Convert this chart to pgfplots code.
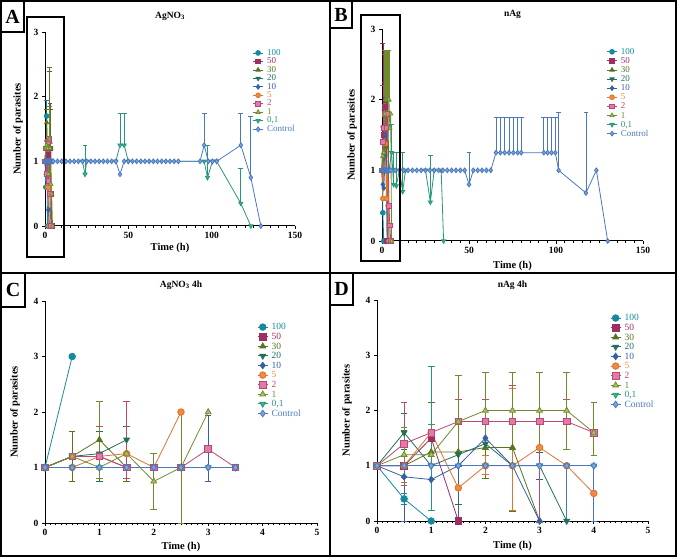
\documentclass[border=0pt]{standalone}
\usepackage{fontspec}
\setmainfont{Liberation Serif}
\usepackage{pgfplots}
\pgfplotsset{compat=1.18}
\definecolor{c100}{RGB}{20,138,158}
\definecolor{c50}{RGB}{158,47,98}
\definecolor{c30}{RGB}{85,117,30}
\definecolor{c20}{RGB}{34,112,90}
\definecolor{c10}{RGB}{53,96,168}
\definecolor{c5}{RGB}{240,138,60}
\definecolor{c5d}{RGB}{222,115,50}
\definecolor{c2}{RGB}{224,122,168}
\definecolor{c2d}{RGB}{190,70,115}
\definecolor{c1}{RGB}{175,192,96}
\definecolor{c1d}{RGB}{110,140,45}
\definecolor{c01}{RGB}{64,176,144}
\definecolor{c01d}{RGB}{40,150,120}
\definecolor{cc}{RGB}{127,164,221}
\definecolor{ccd}{RGB}{74,120,192}
\newcommand{\lgd}[3]{\textcolor{#1}{\rule[-2.3pt]{0pt}{#3}#2}}
\pgfplotsset{
 s100/.style={solid, color=c100, mark=*, mark options={solid, fill=c100, draw=c100}},
 s50/.style={solid, color=c50, mark=square*, mark options={solid, fill=c50, draw=c50}},
 s30/.style={solid, color=c30, mark=triangle*, mark options={solid, fill=c30, draw=c30}},
 s20/.style={solid, color=c20, mark=triangle*, mark options={solid, fill=c20, draw=c20, rotate=180}},
 s10/.style={solid, color=c10, mark=diamond*, mark options={solid, fill=c10, draw=c10}},
 s5/.style={solid, color=c5d, mark=*, mark options={solid, fill=c5, draw=c5d}},
 s2/.style={solid, color=c2d, mark=square*, mark options={solid, fill=c2, draw=c2d}},
 s1/.style={solid, color=c1d, mark=triangle*, mark options={solid, fill=c1, draw=c1d}},
 s01/.style={solid, color=c01d, mark=triangle*, mark options={solid, fill=c01, draw=c01d, rotate=180}},
 sc/.style={solid, color=ccd, mark=diamond*, mark options={solid, fill=cc, draw=ccd}},
 panel/.style={scale only axis, anchor=south west, clip=false,
   axis lines*=left, axis line style={line width=1pt, black},
   tick align=outside, tick style={black, line width=0.8pt},
   major tick length=3pt, minor tick length=2pt,
   minor x tick num=9,
   /pgf/number format/assume math mode=true,
   ticklabel style={font=\bfseries\fontsize{9.5}{10}\selectfont},
   label style={font=\bfseries\fontsize{10.5}{12}\selectfont},
   title style={font=\bfseries\fontsize{9.5}{11}\selectfont, anchor=center},
   xlabel={Time (h)}, ylabel={Number of parasites},
   legend cell align=left,
   legend image code/.code={\draw[mark repeat=2,mark phase=2] plot coordinates {(0pt,0pt) (5pt,0pt) (10pt,0pt)};},
   legend style={anchor=north west, draw=none, fill=none, inner sep=0pt, row sep=0pt,
     nodes={inner sep=0.5pt}, /tikz/every odd column/.append style={column sep=3pt}},
   every axis plot/.append style={line width=0.8pt, error bars/y explicit},
   error bars/error bar style={line width=0.7pt, solid},
 },
}
\begin{document}
\begin{tikzpicture}
\path[use as bounding box] (0pt,0pt) rectangle (677pt,557pt);
% ---------------- Panel A
\begin{axis}[panel, at={(45pt,331pt)}, width=250pt, height=194pt,
  xmin=0, xmax=150, ymin=0, ymax=3, xtick={0,50,100,150}, ytick={0,1,2,3},
  title={AgNO\textsubscript{3}}, title style={at={(0.5,1)}, yshift=10pt},
  xlabel style={at={(0.5,0)}, anchor=center, yshift=-22pt},
  ylabel style={at={(-0.108,0.5)}, anchor=center},
  every axis plot/.append style={mark size=2.4pt, error bars/y dir=plus},
  legend style={at={(0.83,0.915)}, font=\fontsize{9}{9}\selectfont}]
\addplot[s100] coordinates {(0,1)(0.5,0.6)(1,1.7) += (0,0.25)(1.5,0)};
\addlegendentry{\lgd{c100}{100}{8pt}}
\addplot[s50] coordinates {(0,1)(0.5,1.2)(1,0.8)(1.5,1.3)(2,1.1)(2.5,1.35) += (0,1.05)(3,1.2) += (0,0.7)(3.5,0.5)(4,0)};
\addlegendentry{\lgd{c50}{50}{8pt}}
\addplot[s30] coordinates {(0,1)(0.5,1.2)(1,1.6) += (0,0.2)(1.5,1.2)(2,1.3)(2.5,1.2) += (0,1.25)(3,1.3)(3.5,1.2) += (0,0.6)(4,0)};
\addlegendentry{\lgd{c30}{30}{8pt}}
\addplot[s20] coordinates {(0,1)(0.5,1.2)(1,1.3)(1.5,1.2)(2,1)(2.5,0)};
\addlegendentry{\lgd{c20}{20}{8pt}}
\addplot[s10] coordinates {(0,1)(0.5,0.8)(1,1)(1.5,1)(2,0.25)(2.5,0)};
\addlegendentry{\lgd{c10}{10}{8pt}}
\addplot[s5] coordinates {(0,1)(0.5,1)(1,1.2)(1.5,0.6)(2,0.6)(2.5,0)};
\addlegendentry{\lgd{c5}{5}{8pt}}
\addplot[s2] coordinates {(0,1)(0.5,1.2)(1,0.8)(1.5,1.3)(2,0.7)(2.5,1.35)(3,0.5)(3.5,0)};
\addlegendentry{\lgd{c2d}{2}{8pt}}
\addplot[s1] coordinates {(0,1)(0.5,1.2)(1,1.25)(1.5,1.2)(2,0.8)(2.5,1.35) += (0,0.5)(3,1.2)(3.5,0.65)(4,0.5)(4.5,0)};
\addlegendentry{\lgd{c1d}{1}{8pt}}
\addplot[s01] coordinates {(0,1)(22.5,1)(24,0.8) += (0,0.45)(25,1)(42.5,1)(45,1.25) += (0,0.5)(47.5,1.25) += (0,0.5)(50,1)(95.5,1)(97.5,0.75) += (0,0.5)(100.5,1)(103,1)(117.5,0.35) += (0,0.55)(123.5,0)};
\addlegendentry{\lgd{c01d}{0,1}{8pt}}
\addplot[sc] coordinates {(0,1)(0.5,1)(1,1)(1.5,1)(2,1)(2.5,1)(3,1)(3.5,1)(4,1)(4.5,1)(5,1)(7.5,1)(10,1)(12.5,1)(15,1)(17.5,1)(20,1)(22.5,1)(25,1)(27.5,1)(30,1)(32.5,1)(35,1)(37.5,1)(40,1)(42.5,1)(45,0.8)(47.5,1)(50,1)(52.5,1)(55,1)(57.5,1)(60,1)(62.5,1)(65,1)(67.5,1)(70,1)(72.5,1)(75,1)(77.5,1)(80,1)(93,1)(95.5,1.25) += (0,0.5)(98,1)(100.5,1)(103,1)(117.5,1.25) += (0,0.5)(123.5,0.75) += (0,0.95)(129.5,0)};
\addlegendentry{\lgd{ccd}{Control}{8pt}}
\end{axis}
% ---------------- Panel B
\begin{axis}[panel, at={(382pt,316pt)}, width=261pt, height=212pt,
  xmin=0, xmax=150, ymin=0, ymax=3, xtick={0,50,100,150}, ytick={0,1,2,3},
  title={nAg}, title style={at={(0.5,1)}, yshift=9pt},
  xlabel style={at={(0.5,0)}, anchor=center, yshift=-25pt},
  ylabel style={at={(-0.115,0.5)}, anchor=center},
  every axis plot/.append style={mark size=2.4pt, error bars/y dir=plus},
  legend style={at={(0.86,0.915)}, font=\fontsize{9}{9}\selectfont}]
\addplot[s100] coordinates {(0,1)(0.5,0.4)(1,0)};
\addlegendentry{\lgd{c100}{100}{8.9pt}}
\addplot[s50] coordinates {(0,1)(0.5,1.4) += (0,1.4)(1,1.5)(1.5,1.9) += (0,0.35)(2,2)(2.5,1.6)(3,0)};
\addlegendentry{\lgd{c50}{50}{8.9pt}}
\addplot[s30] coordinates {(0,1)(0.5,1)(1,1.25)(1.5,1.25) += (0,1.4)(2,1.33) += (0,1.37)(2.5,1.33) += (0,1.37)(3,1.6) += (0,1.1)(3.5,2) += (0,0.7)(4,0)};
\addlegendentry{\lgd{c30}{30}{8.9pt}}
\addplot[s20] coordinates {(0,1)(0.5,1.6)(1,1)(1.5,1.2)(2,1.4)(2.5,1)(3,1)(3.5,0)};
\addlegendentry{\lgd{c20}{20}{8.9pt}}
\addplot[s10] coordinates {(0,1)(0.5,0.8)(1,0.75)(1.5,1)(2,1.5)(2.5,1)(3,0)};
\addlegendentry{\lgd{c10}{10}{8.9pt}}
\addplot[s5] coordinates {(0,1)(0.5,0.6)(1,1)(1.5,1.6)(2,1.38)(2.5,0.6)(3,1)(3.5,0.5)(4,0)};
\addlegendentry{\lgd{c5}{5}{8.9pt}}
\addplot[s2] coordinates {(0,1)(0.5,1.4) += (0,0.8)(1,1.6)(1.5,1.8)(2,1.8)(2.5,1.6)(3,1.8)(3.5,1)(4,0.5)(4.5,0.22)(5,0)};
\addlegendentry{\lgd{c2d}{2}{8.9pt}}
\addplot[s1] coordinates {(0,1)(0.5,1.2)(1,1.25)(1.5,1.8) += (0,0.9)(2,2) += (0,0.7)(2.5,2) += (0,0.7)(3,2) += (0,0.7)(3.5,2) += (0,0.7)(4,2) += (0,0.7)(4.5,1.6)(5,1.8)(5.5,0)};
\addlegendentry{\lgd{c1d}{1}{8.9pt}}
\addplot[s01] coordinates {(0,1)(2,1)(4,1)(5.5,1.25) += (0,0.4)(6.7,0.8) += (0,0.45)(8.2,0.78) += (0,0.47)(10,1)(11.9,0.7) += (0,0.55)(13.5,1)(25,1)(27.8,0.55) += (0,0.67)(30,1)(34,1)(35.4,0)};
\addlegendentry{\lgd{c01d}{0,1}{8.9pt}}
\addplot[sc] coordinates {(0,1)(0.5,1)(1,1)(1.5,1)(2,1)(2.5,1)(3,1)(3.5,1)(4,1)(4.5,1)(5,1)(7.5,1)(10,1)(12.5,1)(15,1)(17.5,1)(20,1)(22.5,1)(25,1)(27.5,1)(30,1)(32.5,1)(35,1)(37.5,1)(40,1)(42.5,1)(45,1)(47.5,1)(50,0.8) += (0,0.45)(52.5,1)(55,1)(57.5,1)(60,1)(62.5,1)(65.5,1.25) += (0,0.5)(68,1.25) += (0,0.5)(70.5,1.25) += (0,0.5)(73,1.25) += (0,0.5)(75.5,1.25) += (0,0.5)(78,1.25) += (0,0.5)(80,1.25) += (0,0.5)(93,1.25) += (0,0.5)(95.2,1.25) += (0,0.5)(97.4,1.25) += (0,0.5)(99.6,1.25) += (0,0.5)(101.5,1) += (0,0.82)(117.2,0.68) += (0,1.14)(123.2,1)(129.7,0)};
\addlegendentry{\lgd{ccd}{Control}{8.9pt}}
\end{axis}
% ---------------- Panel C
\begin{axis}[panel, at={(45pt,34pt)}, width=272pt, height=222pt,
  xmin=0, xmax=5, ymin=0, ymax=4, xtick={0,1,2,3,4,5}, ytick={0,1,2,3,4},
  title={AgNO\textsubscript{3} 4h}, title style={at={(0.5,1)}, yshift=10pt},
  xlabel style={at={(0.5,0)}, anchor=center, yshift=-24pt},
  ylabel style={at={(-0.11,0.5)}, anchor=center},
  every axis plot/.append style={mark size=3.3pt, error bars/y dir=both},
  legend style={at={(0.78,0.905)}, font=\fontsize{9.5}{10}\selectfont}]
\addplot[s100] coordinates {(0,1)(0.5,3)};
\addlegendentry{\lgd{c100}{100}{9.4pt}}
\addplot[s50] coordinates {(0,1)(0.5,1.2)(1,1.2)(1.5,1)(2,1)};
\addlegendentry{\lgd{c50}{50}{9.4pt}}
\addplot[s30] coordinates {(0,1)(0.5,1.2) += (0,0.45) -= (0,0.45)(1,1.5) += (0,0.15) -= (0,0.75)(1.5,1) += (0,0.75) -= (0,0.25)};
\addlegendentry{\lgd{c30}{30}{9.4pt}}
\addplot[s20] coordinates {(0,1)(0.5,1.2)(1,1.25) += (0,0.4) -= (0,0.5)(1.5,1.5)};
\addlegendentry{\lgd{c20}{20}{9.4pt}}
\addplot[s10] coordinates {(0,1)(0.5,1)(1,1)(1.5,1)(2,1)(2.5,1)(3,1) += (0,0.95) -= (0,0.25)};
\addlegendentry{\lgd{c10}{10}{9.4pt}}
\addplot[s5] coordinates {(0,1)(0.5,1)(1,1.2)(1.5,1.25)(2,1)(2.5,2)};
\addlegendentry{\lgd{c5}{5}{9.4pt}}
\addplot[s2] coordinates {(0,1)(0.5,1.2)(1,1.2) += (0,0.55) -= (0,0.4)(1.5,1) += (0,1.2) -= (0,0.2)(2,1)(2.5,1)(3,1.33)(3.5,1)};
\addlegendentry{\lgd{c2d}{2}{9.4pt}}
\addplot[s1] coordinates {(0,1)(0.5,1.2)(1,1) += (0,1.2) -= (0,0.2)(1.5,1.25)(2,0.75) += (0,0.5) -= (0,0.5)(2.5,1) += (0,1) -= (0,1)(3,2)};
\addlegendentry{\lgd{c1d}{1}{9.4pt}}
\addplot[s01] coordinates {(0,1)(0.5,1)(1,1)(1.5,1)(2,1)(2.5,1)(3,1)(3.5,1)};
\addlegendentry{\lgd{c01d}{0,1}{9.4pt}}
\addplot[sc] coordinates {(0,1)(0.5,1)(1,1)(1.5,1)(2,1)(2.5,1)(3,1)(3.5,1)};
\addlegendentry{\lgd{ccd}{Control}{9.4pt}}
\end{axis}
% ---------------- Panel D
\begin{axis}[panel, at={(377pt,36pt)}, width=271pt, height=221pt,
  xmin=0, xmax=5, ymin=0, ymax=4, xtick={0,1,2,3,4,5}, ytick={0,1,2,3,4},
  title={nAg 4h}, title style={at={(0.5,1)}, yshift=9pt},
  xlabel style={at={(0.5,0)}, anchor=center, yshift=-25pt},
  ylabel style={at={(-0.111,0.5)}, anchor=center},
  every axis plot/.append style={mark size=3.3pt, error bars/y dir=both},
  legend style={at={(0.86,0.941)}, font=\fontsize{9.5}{10}\selectfont}]
\addplot[s100] coordinates {(0,1)(0.5,0.4) += (0,0.1) -= (0,0.1)(1,0)};
\addlegendentry{\lgd{c100}{100}{9.4pt}}
\addplot[s50] coordinates {(0,1)(0.5,1)(1,1.5)(1.5,0)};
\addlegendentry{\lgd{c50}{50}{9.4pt}}
\addplot[s30] coordinates {(0,1)(0.5,1) += (0,0.65) -= (0,0.2)(1,1.25) += (0,0.9) -= (0,0.5)(1.5,1.25) += (0,1.38) -= (0,1.25)(2,1.33) += (0,1.37) -= (0,0.55)(2.5,1.33) += (0,1.37) -= (0,1.15)(3,0) += (0,2.7) -= (0,0)};
\addlegendentry{\lgd{c30}{30}{9.4pt}}
\addplot[s20] coordinates {(0,1)(0.5,1.6) += (0,0.35) -= (0,0.3)(1,1)(1.5,1.2) += (0,1) -= (0,0.9)(2,1.4)(2.5,1)(3,1) += (0,0.25) -= (0,0.25)(3.5,0)};
\addlegendentry{\lgd{c20}{20}{9.4pt}}
\addplot[s10] coordinates {(0,1)(0.5,0.8) += (0,0) -= (0,0.8)(1,0.75)(1.5,1) += (0,0) -= (0,1)(2,1.5)(2.5,1)(3,0) += (0,1.3) -= (0,0)};
\addlegendentry{\lgd{c10}{10}{9.4pt}}
\addplot[s5] coordinates {(0,1)(0.5,1)(1,1.6) += (0,0) -= (0,1.4)(1.5,0.6)(2,1) += (0,0.2) -= (0,0.15)(2.5,1) += (0,1.4) -= (0,0.8)(3,1.33)(3.5,1)(4,0.5)};
\addlegendentry{\lgd{c5}{5}{9.4pt}}
\addplot[s2] coordinates {(0,1)(0.5,1.4) += (0,0.75) -= (0,0.75)(1,1.6) += (0,0.15) -= (0,0)(1.5,1.8) += (0,0.4) -= (0,0)(2,1.8) += (0,0.4) -= (0,0)(2.5,1.8) += (0,0.65) -= (0,0)(3,1.8) += (0,0) -= (0,1.8)(3.5,1.8) += (0,0.4) -= (0,0)(4,1.6)};
\addlegendentry{\lgd{c2d}{2}{9.4pt}}
\addplot[s1] coordinates {(0,1)(0.5,1.2) += (0,0.5) -= (0,0.5)(1,1.2) += (0,0.55) -= (0,1)(1.5,1.8) += (0,0.83) -= (0,0.55)(2,2) += (0,0.7) -= (0,0.7)(2.5,2) += (0,0.7) -= (0,0.7)(3,2) += (0,0.7) -= (0,0.7)(3.5,2) += (0,0.7) -= (0,0.7)(4,1.6) += (0,0.55) -= (0,0.4)};
\addlegendentry{\lgd{c1d}{1}{9.4pt}}
\addplot[s01] coordinates {(0,1)(0.5,1)(1,1) += (0,1.8) -= (0,0.8)(1.5,1)(2,1)(2.5,1)(3,1)(3.5,1)(4,1)};
\addlegendentry{\lgd{c01d}{0,1}{9.4pt}}
\addplot[sc] coordinates {(0,1)(0.5,1)(1,1)(1.5,1)(2,1)(2.5,1)(3,1)(3.5,1) += (0,0) -= (0,1)(4,1) += (0,0) -= (0,1)};
\addlegendentry{\lgd{ccd}{Control}{9.4pt}}
\end{axis}
% ---------------- frames, letters, highlight boxes
\draw[line width=2pt] (1pt,284pt) rectangle (330pt,556pt);
\draw[line width=2pt] (330pt,284pt) rectangle (676pt,556pt);
\draw[line width=2pt] (1pt,1pt) rectangle (330pt,284pt);
\draw[line width=2pt] (330pt,1pt) rectangle (676pt,284pt);
\draw[line width=1.5pt, fill=white] (1pt,525pt) rectangle (24pt,556pt);
\node[font=\fontsize{20}{20}\selectfont\bfseries] at (12.5pt,540pt) {A};
\draw[line width=1.5pt, fill=white] (330pt,529pt) rectangle (352pt,556pt);
\node[font=\fontsize{20}{20}\selectfont\bfseries] at (341pt,542pt) {B};
\draw[line width=1.5pt, fill=white] (1pt,250pt) rectangle (25pt,284pt);
\node[font=\fontsize{20}{20}\selectfont\bfseries] at (13pt,267pt) {C};
\draw[line width=1.5pt, fill=white] (330pt,252pt) rectangle (353pt,284pt);
\node[font=\fontsize{20}{20}\selectfont\bfseries] at (341.5pt,268pt) {D};
\draw[line width=1.5pt] (27pt,300pt) rectangle (64pt,540pt);
\draw[line width=1.5pt] (361pt,296pt) rectangle (400pt,542pt);
\end{tikzpicture}
\end{document}
